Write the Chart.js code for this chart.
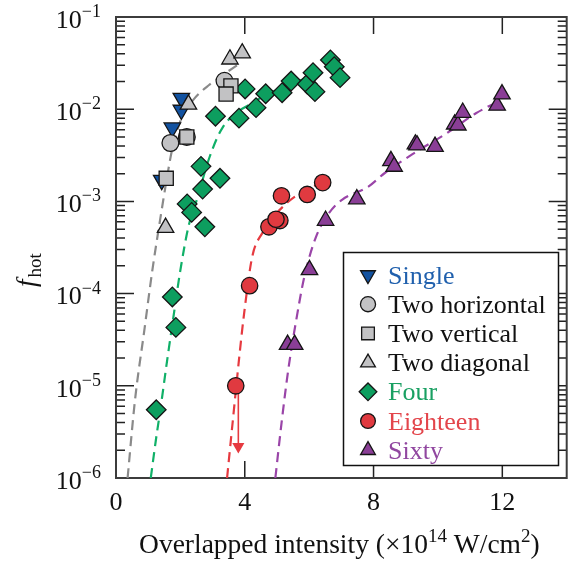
<!DOCTYPE html>
<html>
<head>
<meta charset="utf-8">
<script src="https://cdn.jsdelivr.net/npm/chart.js@4.4.1/dist/chart.umd.min.js"></script>
<style>
  html, body { margin: 0; padding: 0; background: #fff; overflow: hidden; }
  #wrap { width: 578px; height: 564px; }
</style>
</head>
<body>
<div id="wrap"><canvas id="chart" width="578" height="564"></canvas></div>
<script>
// values (x in 1e14 W/cm2, y = f_hot)
const singleX = [2.03, 2.03, 1.75, 1.42];
const singleY = [0.0132, 0.0098, 0.0063, 0.0017];

const twoHorX = [3.37, 1.69, 2.20];
const twoHorY = [0.0203, 0.0043, 0.0050];

const twoVerX = [3.57, 3.42, 2.20, 1.56];
const twoVerY = [0.0179, 0.0146, 0.0050, 0.00178];

const twoDiaX = [3.54, 3.92, 2.25, 1.54];
const twoDiaY = [0.0348, 0.0405, 0.0113, 0.00052];

const fourX = [1.25, 1.75, 1.86, 2.21, 2.35, 2.64, 2.69, 2.76, 3.23, 3.09, 3.82, 4.01, 4.35, 4.65, 5.16, 5.44, 5.94, 6.12, 6.18, 6.66, 6.78, 6.96];
const fourY = [5.5e-6, 9.2e-5, 4.3e-5, 9.4e-4, 7.6e-4, 2.4e-3, 1.36e-3, 5.3e-4, 1.78e-3, 8.4e-3, 8.0e-3, 0.0166, 0.0104, 0.0147, 0.0151, 0.0202, 0.0188, 0.0249, 0.0155, 0.0342, 0.0289, 0.0220];

const eighteenX = [3.72, 4.15, 4.75, 5.09, 4.97, 5.14, 5.94, 6.42];
const eighteenY = [1.0e-5, 1.22e-4, 5.3e-4, 6.2e-4, 6.4e-4, 1.15e-3, 1.19e-3, 1.6e-3];

const sixtyX = [5.33, 5.55, 6.01, 6.51, 7.48, 8.54, 8.64, 9.30, 9.35, 9.91, 10.52, 10.62, 10.77, 11.84, 11.99];
const sixtyY = [2.8e-5, 2.8e-5, 1.81e-4, 6.2e-4, 1.06e-3, 2.75e-3, 2.39e-3, 4.17e-3, 4.07e-3, 3.93e-3, 6.87e-3, 6.7e-3, 9.2e-3, 0.0110, 0.01456];

// dashed fit curves
const fitGrayX = [0.36, 0.59, 0.88, 1.13, 1.37, 1.57, 1.74, 2.01, 2.40, 2.89, 3.77];
const fitGrayY = [1.0e-6, 7.0e-6, 4.0e-5, 1.8e-4, 6.3e-4, 1.7e-3, 3.6e-3, 7.6e-3, 0.0126, 0.0183, 0.0301];

const fitGreenX = [1.08, 1.24, 1.39, 1.59, 1.80, 2.00, 2.25, 2.51, 2.91, 3.32, 4.23, 5.35, 6.41, 6.82];
const fitGreenY = [1.0e-6, 2.6e-6, 5.9e-6, 1.9e-5, 6.1e-5, 1.8e-4, 5.3e-4, 1.04e-3, 3.05e-3, 6.4e-3, 0.0117, 0.0183, 0.0255, 0.031];

const fitRedX = [3.45, 3.62, 3.83, 3.98, 4.23, 4.54, 5.35, 6.21];
const fitRedY = [1.0e-6, 3.9e-6, 2.07e-5, 6.1e-5, 2.5e-4, 4.5e-4, 9.9e-4, 1.51e-3];

const fitPurpleX = [4.95, 5.14, 5.35, 5.60, 5.85, 6.21, 6.61, 7.02, 7.83, 8.34, 9.25, 10.27, 11.18, 11.78];
const fitPurpleY = [1.0e-6, 3.9e-6, 1.48e-5, 5.2e-5, 1.52e-4, 4.1e-4, 7.4e-4, 1.04e-3, 1.44e-3, 2.02e-3, 3.32e-3, 5.48e-3, 9.03e-3, 0.0117];

// upper-limit arrow under the lowest Eighteen point
const arrowX = [3.80, 3.80];
const arrowY = [1.0e-5, 2.2e-6];

const xTicks = [0, 4, 8, 12];
const yDecades = [-6, -5, -4, -3, -2, -1];

const SERIF = '"Liberation Serif", "Times New Roman", serif';

function pts(xs, ys) {
    return xs.map((v, i) => ({ x: v, y: ys[i] }));
}

function markers(label, xs, ys, style, fill, textColor, radius, rotation, order) {
    return {
        label: label,
        data: pts(xs, ys),
        showLine: false,
        pointStyle: style,
        pointRadius: radius,
        pointRotation: rotation,
        backgroundColor: fill,
        borderColor: '#151515',
        borderWidth: 1.3,
        legendColor: textColor,
        order: order
    };
}

function fit(xs, ys, color) {
    return {
        data: pts(xs, ys),
        showLine: true,
        pointRadius: 0,
        borderColor: color,
        borderWidth: 2.2,
        borderDash: [10, 6],
        cubicInterpolationMode: 'monotone',
        fill: false,
        order: 20
    };
}

const datasets = [
    fit(fitGrayX, fitGrayY, '#8a8a8a'),
    fit(fitGreenX, fitGreenY, '#10b068'),
    fit(fitRedX, fitRedY, '#e63a40'),
    fit(fitPurpleX, fitPurpleY, '#9a45a8'),
    {
        data: pts(arrowX, arrowY),
        showLine: true,
        borderColor: '#e63a40',
        borderWidth: 1.6,
        pointRadius: [0, 7],
        pointStyle: 'triangle',
        pointRotation: 180,
        backgroundColor: '#e63a40',
        pointBorderWidth: 0,
        order: 19
    },
    markers('Single', singleX, singleY, 'triangle', '#1252a0', '#2060ad', 9.5, 180, 6),
    markers('Two horizontal', twoHorX, twoHorY, 'circle', '#c2c2c4', '#111', 8.4, 0, 5),
    markers('Two vertical', twoVerX, twoVerY, 'rect', '#c2c2c4', '#111', 10, 0, 4),
    markers('Two diagonal', twoDiaX, twoDiaY, 'triangle', '#c2c2c4', '#111', 9.5, 0, 3),
    markers('Four', fourX, fourY, 'rectRot', '#0d9e5f', '#19a062', 9.8, 0, 7),
    markers('Eighteen', eighteenX, eighteenY, 'circle', '#e03a40', '#e3454b', 8.2, 0, 2),
    markers('Sixty', sixtyX, sixtyY, 'triangle', '#8a3e96', '#9147a0', 9.5, 0, 1)
];

// frame with inward ticks on all four sides
const framePlugin = {
    id: 'frame',
    beforeDatasetsDraw(chart) {
        const { ctx, chartArea: a, scales: { x, y } } = chart;
        ctx.save();
        ctx.strokeStyle = '#222';
        ctx.lineWidth = 1.5;
        ctx.beginPath();
        xTicks.forEach(v => {
            const px = x.getPixelForValue(v);
            ctx.moveTo(px, a.bottom); ctx.lineTo(px, a.bottom - 17);
            ctx.moveTo(px, a.top); ctx.lineTo(px, a.top + 17);
        });
        yDecades.forEach(e => {
            const py = y.getPixelForValue(Math.pow(10, e));
            ctx.moveTo(a.left, py); ctx.lineTo(a.left + 18, py);
            ctx.moveTo(a.right, py); ctx.lineTo(a.right - 18, py);
            if (e < -1) {
                for (let m = 2; m <= 9; m++) {
                    const pm = y.getPixelForValue(m * Math.pow(10, e));
                    ctx.moveTo(a.left, pm); ctx.lineTo(a.left + 9, pm);
                    ctx.moveTo(a.right, pm); ctx.lineTo(a.right - 9, pm);
                }
            }
        });
        ctx.stroke();
        ctx.strokeStyle = '#3c3c3c';
        ctx.lineWidth = 2;
        ctx.strokeRect(a.left, a.top, a.right - a.left, a.bottom - a.top);
        ctx.restore();
    },
    afterDraw(chart) {
        const { ctx, chartArea: a, scales: { x, y } } = chart;
        ctx.save();
        ctx.fillStyle = '#111';

        // x tick labels
        ctx.font = '26px ' + SERIF;
        ctx.textAlign = 'center';
        ctx.textBaseline = 'alphabetic';
        xTicks.forEach(v => ctx.fillText(String(v), x.getPixelForValue(v), a.bottom + 32));

        // y tick labels 10^n
        ctx.textAlign = 'left';
        yDecades.forEach(e => {
            const py = y.getPixelForValue(Math.pow(10, e));
            const sup = '\u2212' + Math.abs(e);
            ctx.font = '18px ' + SERIF;
            const supW = ctx.measureText(sup).width;
            ctx.font = '26px ' + SERIF;
            const mainW = ctx.measureText('10').width;
            const x0 = 101 - supW - mainW;
            ctx.fillText('10', x0, py + 10.8);
            ctx.font = '18px ' + SERIF;
            ctx.fillText(sup, x0 + mainW, py);
        });

        // x axis title with superscripts
        const parts = [
            ['Overlapped intensity (\u00d710', 27.5, 0],
            ['14', 19, -11],
            [' W/cm', 27.5, 0],
            ['2', 19, -11],
            [')', 27.5, 0]
        ];
        let total = 0;
        parts.forEach(p => { ctx.font = p[1] + 'px ' + SERIF; p.push(ctx.measureText(p[0]).width); total += p[3]; });
        let cx = (a.left + a.right) / 2 - total / 2 - 2;
        parts.forEach(p => {
            ctx.font = p[1] + 'px ' + SERIF;
            ctx.fillText(p[0], cx, 553 + p[2]);
            cx += p[3];
        });

        // y axis title f_hot
        ctx.translate(35, 270);
        ctx.rotate(-Math.PI / 2);
        ctx.font = 'italic 27px ' + SERIF;
        const fW = ctx.measureText('f').width;
        ctx.font = '19px ' + SERIF;
        const hW = ctx.measureText('hot').width;
        const sx = -(fW + hW + 2) / 2;
        ctx.font = 'italic 27px ' + SERIF;
        ctx.fillText('f', sx, 0);
        ctx.font = '19px ' + SERIF;
        ctx.fillText('hot', sx + fW + 2, 6);
        ctx.restore();

        // legend box
        ctx.save();
        ctx.fillStyle = '#fff';
        ctx.fillRect(343.5, 252.5, 215, 213);
        ctx.strokeStyle = '#111';
        ctx.lineWidth = 1.5;
        ctx.strokeRect(343.5, 252.5, 215, 213);
        let row = 0;
        chart.data.datasets.forEach(ds => {
            if (!ds.label) return;
            const ry = 275 + row * 29.2;
            ctx.fillStyle = ds.backgroundColor;
            ctx.strokeStyle = ds.borderColor;
            ctx.lineWidth = ds.borderWidth;
            Chart.helpers.drawPoint(ctx, {
                pointStyle: ds.pointStyle,
                radius: ds.pointRadius * 0.9,
                rotation: ds.pointRotation,
                borderWidth: ds.borderWidth
            }, 368, ry);
            ctx.fillStyle = ds.legendColor;
            ctx.font = '26px ' + SERIF;
            ctx.textAlign = 'left';
            ctx.fillText(ds.label, 388, ry + 8.5);
            row++;
        });
        ctx.restore();
    }
};

new Chart(document.getElementById('chart').getContext('2d'), {
    type: 'scatter',
    data: { datasets: datasets },
    options: {
        responsive: false,
        devicePixelRatio: 1,
        animation: false,
        events: [],
        layout: { padding: { left: 116, top: 17, right: 2, bottom: 86 } },
        plugins: { legend: { display: false }, tooltip: { enabled: false } },
        scales: {
            x: { type: 'linear', min: 0, max: 14, display: false },
            y: { type: 'logarithmic', min: 1e-6, max: 1e-1, display: false }
        }
    },
    plugins: [framePlugin]
});
</script>
</body>
</html>
